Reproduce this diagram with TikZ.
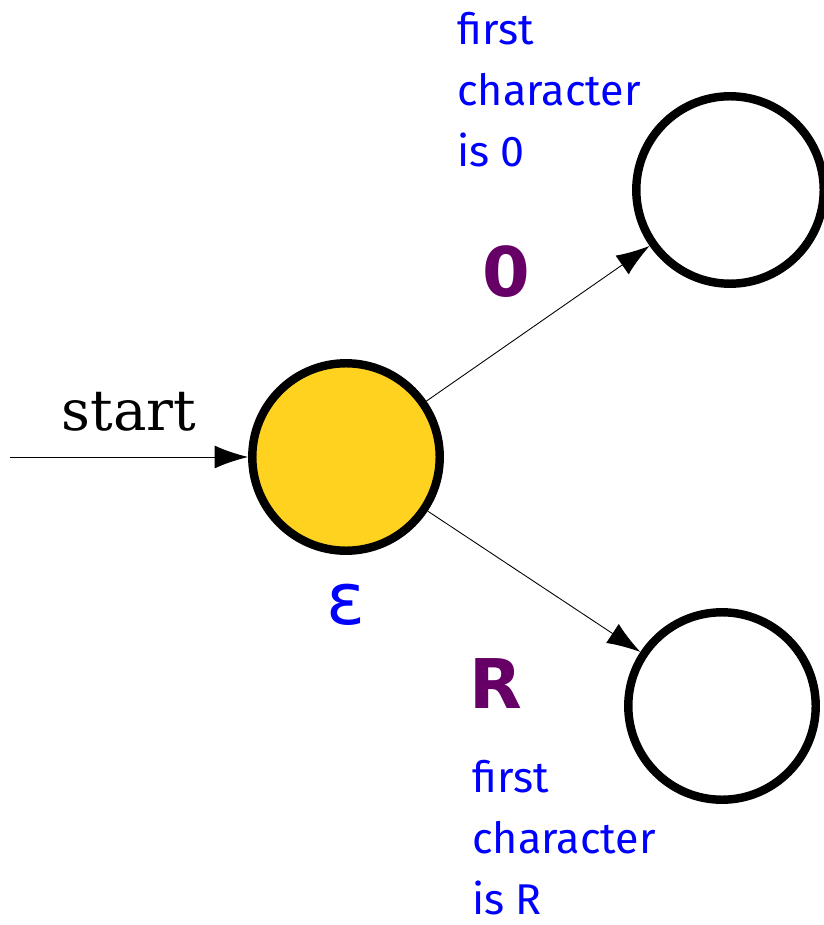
\documentclass[tikz,border=0pt]{standalone}
\usepackage{fontspec}
\newfontfamily\notefont{Fira Sans}
\newfontfamily\labfont{DejaVu Sans}
\newfontfamily\startfont{DejaVu Serif}
\usetikzlibrary{arrows.meta}
\definecolor{stateyellow}{HTML}{FFD21F}
\definecolor{edgepurple}{HTML}{660066}
\definecolor{noteblue}{HTML}{0000FF}
\tikzset{
  state/.style={circle,draw,line width=4.8pt,minimum size=3.75cm,inner sep=0pt},
  trans/.style={-{Latex[length=19pt,width=13pt]},line width=.5pt},
  edgelab/.style={text=edgepurple,font=\labfont\bfseries\fontsize{39}{44}\selectfont},
  note/.style={text=noteblue,font=\notefont\fontsize{24.5}{34.6}\selectfont,align=left,anchor=north west,inner sep=0pt}
}
\begin{document}
\begin{tikzpicture}[x=.02cm,y=-.02cm]
  \useasboundingbox (0,0) rectangle (823,925);
  \node[state,fill=stateyellow] (q0) at (346,457) {};
  \node[state] (q1) at (730,190) {};
  \node[state] (q2) at (722,706) {};
  \coordinate (in) at (10,457);
  \draw[trans] (in) -- (q0) node[pos=.5,above=11pt,font=\startfont\fontsize{32}{38}\selectfont] {start};
  \draw[trans] (q0) -- (q1);
  \draw[trans] (q0) -- (q2);
  \node[edgelab] (l1) at (506,272) {0};
  \node[edgelab] (l2) at (496,684) {R};
  \node[text=noteblue,font=\labfont\fontsize{41}{46}\selectfont] (eps) at (346,605) {ε};
  \node[note] (n1) at (457,12) {first\\character\\is 0};
  \node[note] (n2) at (472,760) {first\\character\\is R};
\end{tikzpicture}
\end{document}
